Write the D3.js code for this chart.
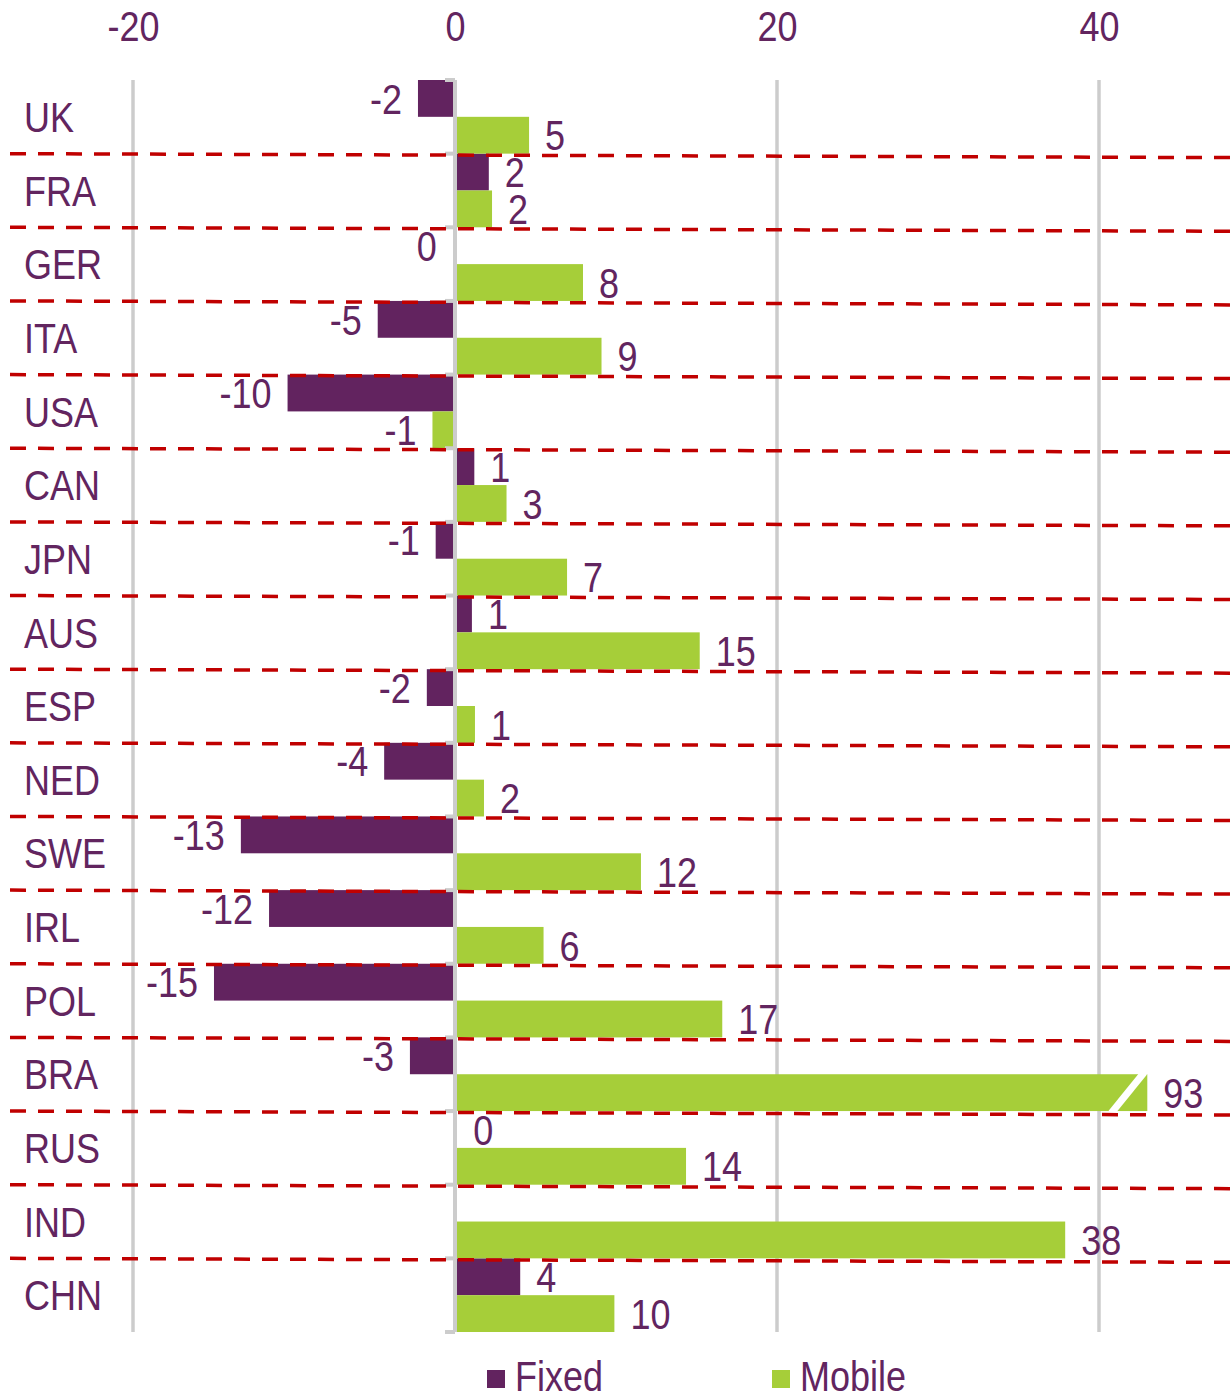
<!DOCTYPE html>
<html>
<head>
<meta charset="utf-8">
<script src="https://cdn.jsdelivr.net/npm/d3@7"></script>
<style>
  body { margin: 0; background: #fff; }
  svg { display: block; font-family: "Liberation Sans", Arial, sans-serif; }
</style>
</head>
<body>
<div id="chart"></div>
<script>
// Categories and values
const countries = ['UK', 'FRA', 'GER', 'ITA', 'USA', 'CAN', 'JPN', 'AUS', 'ESP', 'NED', 'SWE', 'IRL', 'POL', 'BRA', 'RUS', 'IND', 'CHN'];
const fixed  = [-2.3, 2.1, -0.01, -4.8, -10.4, 1.2, -1.2, 1.05, -1.75, -4.4, -13.3, -11.55, -14.97, -2.8, 0.01, null, 4.05];
const mobile = [4.6, 2.3, 7.95, 9.1, -1.4, 3.2, 6.96, 15.2, 1.24, 1.8, 11.55, 5.5, 16.6, 93, 14.35, 37.9, 9.9];
const xTicks = [-20, 0, 20, 40];
const seriesNames = ['Fixed', 'Mobile'];

const width = 1230;
const height = 1396;
const purple = '#62235F';
const green = '#A6CE39';
const textColor = '#62255F';
const fontSize = 36;
const stretch = 1.17;   // text in the picture is taller than it is wide
const maxShown = 43;    // longer bars get cut with a break mark

const svg = d3.select('#chart').append('svg')
    .attr('width', width)
    .attr('height', height);

const x = d3.scaleLinear().domain([-20, 40]).range([133, 1099]);
const y = d3.scaleBand().domain(countries).range([80, 1332]);
const half = y.bandwidth() / 2;
const x0 = x(0);

// helper for the vertically stretched text
function label(g, tx, ty, str, anchor) {
    return g.append('text')
        .attr('transform', `translate(${tx},${ty}) scale(1,${stretch})`)
        .attr('dy', '0.36em')
        .attr('text-anchor', anchor || 'start')
        .attr('fill', textColor)
        .style('font-size', fontSize + 'px')
        .text(str);
}

// vertical gridlines
svg.append('g').selectAll('line')
    .data(xTicks.filter(d => d !== 0))
    .enter().append('line')
    .attr('x1', d => x(d)).attr('x2', d => x(d))
    .attr('y1', 80).attr('y2', 1332)
    .attr('stroke', '#CCCCCC')
    .attr('stroke-width', 3.5);

// top axis labels (plain hyphen for the minus, like the original)
const axis = svg.append('g')
    .attr('transform', 'translate(0,26)')
    .call(d3.axisTop(x).tickValues(xTicks).tickFormat(d => String(d)).tickSize(0).tickPadding(0));
axis.select('.domain').remove();
axis.selectAll('text')
    .attr('y', 0)
    .attr('dy', '0.36em')
    .attr('transform', `scale(1,${stretch})`)
    .attr('fill', textColor)
    .style('font-size', fontSize + 'px')
    .style('font-family', '"Liberation Sans", Arial, sans-serif');

// bars
const rows = countries.map((c, i) => ({ c, fixed: fixed[i], mobile: mobile[i] }));
const barG = svg.append('g');
const clip = v => Math.min(v, maxShown);

barG.selectAll('.fixed')
    .data(rows.filter(d => d.fixed !== null))
    .enter().append('rect')
    .attr('x', d => Math.min(x0, x(d.fixed)))
    .attr('width', d => Math.abs(x(d.fixed) - x0))
    .attr('y', d => y(d.c))
    .attr('height', half)
    .attr('fill', purple);

barG.selectAll('.mobile')
    .data(rows)
    .enter().append('rect')
    .attr('x', d => Math.min(x0, x(clip(d.mobile))))
    .attr('width', d => Math.abs(x(clip(d.mobile)) - x0))
    .attr('y', d => y(d.c) + half)
    .attr('height', half)
    .attr('fill', green);

// break mark on the cut bar
rows.filter(d => d.mobile > maxShown).forEach(d => {
    const xe = x(maxShown);
    barG.append('line')
        .attr('x1', xe - 36).attr('y1', y(d.c) + 2 * half + 2)
        .attr('x2', xe - 3).attr('y2', y(d.c) + half - 2)
        .attr('stroke', '#fff')
        .attr('stroke-width', 7);
});

// zero axis with small ticks on the left
svg.append('line')
    .attr('x1', x0).attr('x2', x0)
    .attr('y1', 80).attr('y2', 1332)
    .attr('stroke', '#CCCCCC')
    .attr('stroke-width', 4);
svg.append('g').selectAll('line')
    .data(countries.map(c => y(c)).concat([1332]))
    .enter().append('line')
    .attr('x1', x0 - 10).attr('x2', x0)
    .attr('y1', d => d).attr('y2', d => d)
    .attr('stroke', '#CCCCCC')
    .attr('stroke-width', 4);

// red dashed separators (slightly sloping in the original)
svg.append('g').selectAll('line')
    .data(countries.slice(1))
    .enter().append('line')
    .attr('x1', 10).attr('x2', 1240)
    .attr('y1', d => y(d)).attr('y2', d => y(d) + 4)
    .attr('stroke', '#C00000')
    .attr('stroke-width', 3.5)
    .attr('stroke-dasharray', '16,12');

// value labels
const labelG = svg.append('g');
function valueLabel(v, cy) {
    if (v === null) return;
    const shown = Math.min(v, maxShown);
    const txt = String(Math.round(v));
    if (v < 0) {
        label(labelG, x(shown) - 16 - (v > -0.5 ? 2 : 0), cy, txt, 'end');
    } else {
        label(labelG, x(shown) + 16 + (v < 0.5 ? 2 : 0), cy, txt, 'start');
    }
}
rows.forEach(d => {
    valueLabel(d.fixed, y(d.c) + half / 2);
    valueLabel(d.mobile, y(d.c) + half * 1.5);
});

// category labels
const catG = svg.append('g');
countries.forEach(c => label(catG, 24, y(c) + half, c, 'start'));

// legend
const legend = svg.append('g');
const legendX = [487, 772];
seriesNames.forEach((name, i) => {
    legend.append('rect')
        .attr('x', legendX[i]).attr('y', 1370)
        .attr('width', 18).attr('height', 18)
        .attr('fill', i === 0 ? purple : green);
    label(legend, legendX[i] + 28, 1376, name, 'start');
});
</script>
</body>
</html>
